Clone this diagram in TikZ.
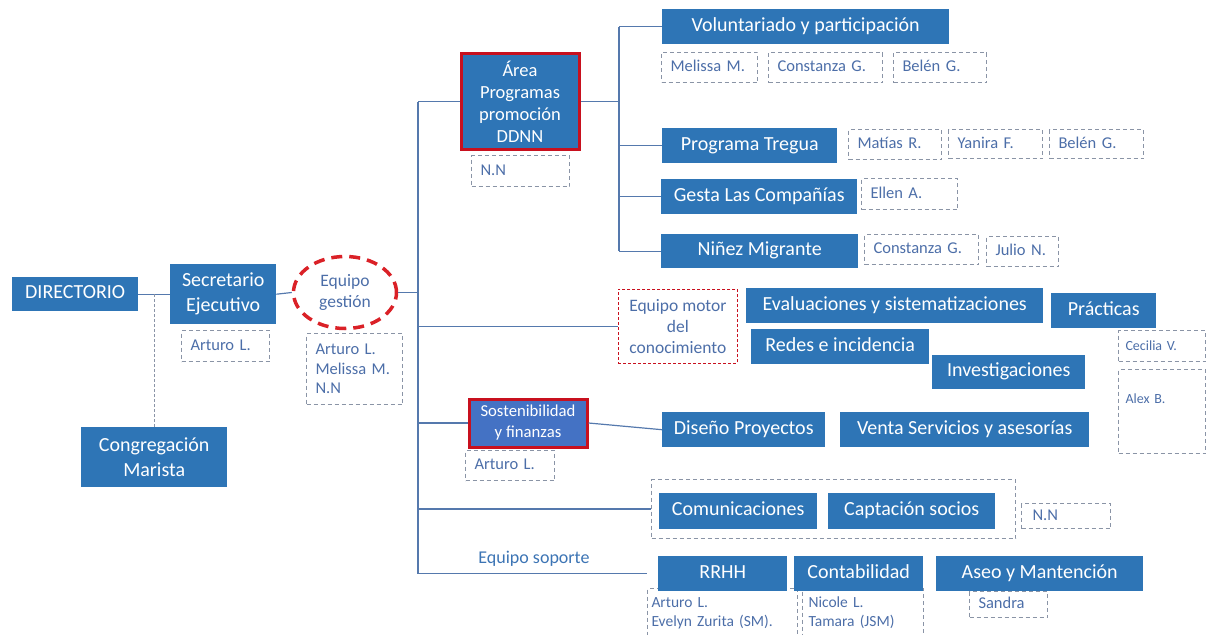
\documentclass[tikz,border=0pt]{standalone}
\usepackage{fontspec}
\setmainfont{Carlito}
\usetikzlibrary{positioning,calc,shapes.geometric}
\definecolor{BoxBlue}{HTML}{2E75B6}
\definecolor{SostBlue}{HTML}{4472C4}
\definecolor{RedLine}{HTML}{C8101E}
\definecolor{EllRed}{HTML}{DA2127}
\definecolor{LineBlue}{HTML}{5579AD}
\definecolor{DashGrey}{HTML}{8A94A6}
\definecolor{TxtBlue}{HTML}{4C6EA8}
\definecolor{SoftBlue}{HTML}{3C74B4}

\begin{document}
\begin{tikzpicture}[x=1pt, y=-1pt,
  bx/.style    = {fill=BoxBlue, text=white, anchor=north west, inner sep=0pt,
                  align=center, font=\fontsize{20}{25}\selectfont},
  bxone/.style = {bx, text height=14pt, text depth=4.5pt},
  redbx/.style = {bx, draw=RedLine, line width=3pt},
  pb/.style    = {draw=DashGrey, dash pattern=on 4pt off 3pt, line width=1pt,
                  text=TxtBlue, anchor=north west, inner xsep=9pt, inner ysep=0pt,
                  align=left, font=\fontsize{16.5}{19.5}\selectfont},
  pbone/.style = {pb, text height=11.5pt, text depth=3.5pt},
  grpbox/.style= {draw=DashGrey, dash pattern=on 4pt off 3pt, line width=1pt,
                  anchor=north west, inner sep=0pt},
  ln/.style    = {draw=LineBlue, line width=1.2pt},
  dl/.style    = {draw=DashGrey, dash pattern=on 3pt off 2pt, line width=1pt}
]
  \useasboundingbox (0,0) rectangle (1209,634);
  \coordinate (tk) at (418,0);
  \coordinate (ak) at (619,0);

  % persons (drawn first, under the boxes)
  \node[pbone, text width=70pt, minimum height=31pt] (psec)  at (181,330) {Arturo L.};
  \node[pb, text width=78pt, minimum height=71pt] (peqg)  at (306,333) {Arturo L.\\Melissa M.\\N.N};
  \node[pbone, text width=80pt, minimum height=31pt] (parea) at (471,155) {N.N};
  \node[pbone, text width=78pt, minimum height=30pt] (pvol1) at (661,52)  {Melissa M.};
  \node[pbone, text width=96pt, minimum height=30pt] (pvol2) at (768,52)  {Constanza G.};
  \node[pbone, text width=75pt, minimum height=30pt] (pvol3) at (893,52)  {Belén G.};
  \node[pbone, text width=75pt, minimum height=30pt] (ptr1)  at (848,129) {Matías R.};
  \node[pbone, text width=76pt, minimum height=29pt] (ptr2)  at (948,129) {Yanira F.};
  \node[pbone, text width=76pt, minimum height=29pt] (ptr3)  at (1049,129) {Belén G.};
  \node[pbone, text width=78pt, minimum height=31pt] (pges)  at (861,178) {Ellen A.};
  \node[pbone, text width=96pt, minimum height=30pt] (pni1)  at (864,234) {Constanza G.};
  \node[pbone, text width=54pt, minimum height=30pt] (pni2)  at (986,236) {Julio N.};
  \node[pbone, inner xsep=7pt, text width=73pt, minimum height=31pt,
        font=\fontsize{14}{17}\selectfont] (pcec)  at (1118,330) {Cecilia V.};
  \node[pb, inner xsep=7pt, text width=73pt, minimum height=84pt, text depth=26pt,
        font=\fontsize{14}{17}\selectfont] (palex) at (1118,369) {Alex B.};
  \node[pbone, text width=71pt, minimum height=30pt] (psost) at (465,450) {Arturo L.};
  \node[pbone, inner xsep=11pt, text width=67pt, minimum height=25pt] (pcom) at (1021,503) {N.N};
  \node[pb, inner xsep=4pt, text width=142pt, minimum height=49pt,
        font=\fontsize{15.5}{19}\selectfont] (prrhh) at (647,588) {Arturo L.\\Evelyn Zurita (SM).};
  \node[pb, inner xsep=6pt, text width=109pt, minimum height=49pt,
        font=\fontsize{15.5}{19}\selectfont] (pcont) at (802,588) {Nicole L.\\Tamara (JSM)};
  \node[pbone, text width=60pt, minimum height=26pt] (paseo) at (969,591) {Sandra};
  \node[grpbox, minimum width=364pt, minimum height=59pt] (grp) at (651,479) {};

  % boxes
  \node[bxone, minimum width=126pt, minimum height=34pt] (dir)   at (12,277)  {DIRECTORIO};
  \node[bx, minimum width=106pt, minimum height=60pt] (sec)   at (170,264) {Secretario\\Ejecutivo};
  \node[bx, minimum width=146pt, minimum height=60pt] (cong)  at (81,427)  {Congregación\\Marista};
  \node[redbx, minimum width=118pt, minimum height=95pt,
        font=\fontsize{18.5}{22}\selectfont] (area) at (459.5,52.5) {Área\\Programas\\promoción\\DDNN};
  \node[bxone, minimum width=287pt, minimum height=35pt] (vol)   at (662,9)   {Voluntariado y participación};
  \node[bxone, minimum width=175pt, minimum height=35pt] (treg)  at (662,128) {Programa Tregua};
  \node[bxone, minimum width=196pt, minimum height=35pt] (gesta) at (661,179) {Gesta Las Compañías};
  \node[bxone, minimum width=197pt, minimum height=34pt] (ninez) at (661,234) {Niñez Migrante};
  \node[bxone, minimum width=297pt, minimum height=35pt] (eval)  at (746,288) {Evaluaciones y sistematizaciones};
  \node[bxone, minimum width=105pt, minimum height=35pt] (prac)  at (1051,293) {Prácticas};
  \node[bxone, minimum width=178pt, minimum height=35pt] (redes) at (751,329) {Redes e incidencia};
  \node[bxone, minimum width=153pt, minimum height=34pt] (inv)   at (932,355) {Investigaciones};
  \node[redbx, fill=SostBlue, minimum width=118pt, minimum height=48pt,
        font=\fontsize{16.7}{21}\selectfont] (sost) at (467.5,397.5) {Sostenibilidad\\y finanzas};
  \node[bxone, minimum width=163pt, minimum height=35pt] (dis)   at (662,412) {Diseño Proyectos};
  \node[bxone, minimum width=249pt, minimum height=35pt] (venta) at (840,412) {Venta Servicios y asesorías};
  \node[bxone, minimum width=158pt, minimum height=36pt] (com)   at (659,493) {Comunicaciones};
  \node[bxone, minimum width=167pt, minimum height=36pt] (capt)  at (828,493) {Captación socios};
  \node[bxone, minimum width=129pt, minimum height=35pt] (rrhh)  at (658,556) {RRHH};
  \node[bxone, minimum width=129pt, minimum height=35pt] (cont)  at (794,556) {Contabilidad};
  \node[bxone, minimum width=207pt, minimum height=35pt] (aseo)  at (936,556) {Aseo y Mantención};

  \node[ellipse, draw=EllRed, line width=3.5pt, dash pattern=on 11pt off 7pt,
        minimum width=103pt, minimum height=72pt, inner sep=0pt, text=TxtBlue,
        align=center, font=\fontsize{17.5}{21}\selectfont] (eqg) at (345,292.5) {Equipo\\gestión};
  \node[draw=RedLine, dash pattern=on 3pt off 2pt, line width=0.8pt, anchor=north west,
        minimum width=119pt, minimum height=74pt, inner sep=0pt, text=TxtBlue,
        align=center, font=\fontsize{17.5}{21}\selectfont] (motor) at (618,289) {Equipo motor\\del\\conocimiento};
  \node[text=SoftBlue, font=\fontsize{18}{22}\selectfont] (sop) at (534,559) {Equipo soporte};

  % connectors
  \draw[ln] (dir.east) -- (sec.west);
  \draw[ln] (sec.east) -- (eqg.west);
  \draw[ln] (eqg.east) -- (eqg.east -| tk);
  \draw[dl] (cong.north) -- (cong.north |- dir.east);
  \draw[ln] (tk |- area.west) -- (tk |- rrhh.west) -- (prrhh.west |- rrhh.west);
  \foreach \mynd in {area,motor,sost,grp}{
    \draw[ln] (tk |- \mynd.west) -- (\mynd.west);
  }
  \draw[ln] (area.east) -- (area.east -| ak);
  \draw[ln] (ak |- vol.west) -- (ak |- ninez.west);
  \foreach \mynd in {vol,treg,gesta,ninez}{
    \draw[ln] (ak |- \mynd.west) -- (\mynd.west);
  }
  \draw[ln] (sost.east) -- (dis.west);
\end{tikzpicture}
\end{document}
